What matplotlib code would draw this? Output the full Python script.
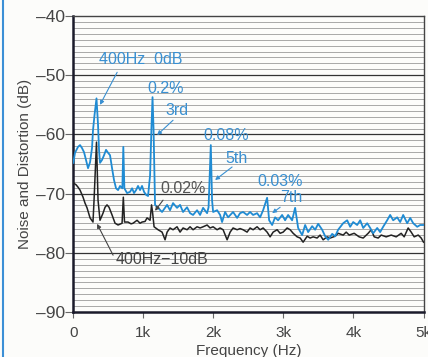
import numpy as np
import matplotlib
matplotlib.use('Agg')
import matplotlib.pyplot as plt
from matplotlib.lines import Line2D

plt.rcParams['font.family'] = ['Liberation Sans', 'DejaVu Sans']

# 400Hz 0dB trace (blue)
blue_f = [0, 24, 67, 96, 124, 153, 181, 210, 239, 267, 281, 303, 331, 353, 367, 381,
          410, 439, 467, 496, 524, 553, 581, 610, 639, 667, 700, 714, 729, 767, 810,
          839, 867, 896, 924, 953, 981, 1010, 1039, 1067, 1096, 1117, 1131, 1146, 1167,
          1210, 1267, 1339, 1381, 1424, 1481, 1524, 1567, 1624, 1667, 1710, 1767, 1810,
          1853, 1910, 1931, 1963, 1981, 1996, 2053, 2096, 2124, 2167, 2210, 2281, 2339,
          2381, 2424, 2481, 2524, 2567, 2624, 2667, 2710, 2767, 2796, 2839, 2881, 2924,
          2981, 3024, 3067, 3124, 3167, 3210, 3267, 3310, 3353, 3410, 3453, 3496, 3553,
          3596, 3639, 3696, 3739, 3781, 3853, 3910, 3953, 3996, 4053, 4096, 4139, 4196,
          4239, 4281, 4339, 4381, 4424, 4481, 4524, 4567, 4624, 4667, 4710, 4767, 4810,
          4853, 4910, 4953, 5000]
blue_db = [-64.8, -63.1, -62.1, -61.8, -62.3, -63.0, -64.3, -65.7, -64.7, -62.3, -59.3,
           -56.7, -53.9, -58.4, -62.6, -64.8, -64.3, -63.5, -62.6, -63.1, -63.5, -65.7,
           -67.7, -69.1, -69.4, -68.7, -69.1, -62.1, -69.1, -69.9, -69.7, -69.1, -69.9,
           -69.4, -68.7, -69.4, -68.7, -69.7, -70.2, -70.4, -66.9, -58.4, -53.7, -59.3,
           -71.9, -72.4, -73.1, -71.9, -72.8, -71.6, -72.4, -71.9, -73.1, -72.3, -73.3,
           -73.6, -72.8, -73.6, -72.4, -73.3, -72.3, -61.8, -71.1, -73.1, -72.8, -73.6,
           -74.8, -73.1, -74.0, -73.1, -74.1, -73.3, -73.1, -73.6, -73.1, -73.6, -73.3,
           -74.0, -72.8, -70.7, -74.5, -75.3, -74.0, -74.5, -73.6, -74.5, -73.6, -74.5,
           -72.4, -75.8, -77.0, -75.3, -76.5, -75.5, -76.1, -75.1, -76.1, -77.2, -77.8,
           -76.8, -77.2, -76.1, -75.0, -74.5, -75.6, -74.8, -75.3, -74.5, -75.8, -75.0,
           -75.8, -76.7, -75.8, -76.5, -75.6, -74.5, -73.6, -74.5, -74.0, -74.8, -73.6,
           -75.0, -74.1, -75.0, -75.6, -75.3, -75.3]

# 400Hz -10dB trace (black)
black_f = [0, 39, 67, 96, 139, 167, 196, 239, 281, 296, 331, 353, 381, 424, 453, 481,
           510, 553, 596, 639, 696, 714, 731, 781, 824, 853, 910, 953, 981, 1024, 1053,
           1096, 1117, 1131, 1153, 1210, 1267, 1310, 1339, 1381, 1424, 1481, 1524, 1567,
           1624, 1667, 1710, 1767, 1810, 1853, 1910, 1953, 1996, 2053, 2096, 2139, 2196,
           2239, 2281, 2339, 2381, 2424, 2481, 2524, 2567, 2624, 2667, 2710, 2767, 2810,
           2853, 2910, 2953, 2996, 3053, 3096, 3139, 3196, 3239, 3281, 3339, 3381, 3424,
           3481, 3524, 3567, 3624, 3667, 3739, 3781, 3853, 3896, 3939, 4010, 4081, 4139,
           4210, 4253, 4296, 4353, 4396, 4467, 4539, 4610, 4681, 4724, 4781, 4824, 4867,
           4924, 4967, 5000]
black_db = [-68.2, -68.5, -68.9, -69.4, -70.6, -71.6, -72.4, -74.1, -74.8, -71.1, -61.3,
            -71.1, -74.5, -73.3, -72.3, -71.9, -72.3, -73.6, -75.0, -75.3, -75.0, -70.6,
            -74.8, -74.8, -75.1, -75.0, -74.5, -75.0, -74.8, -74.7, -74.1, -74.5, -71.9,
            -73.1, -75.6, -76.1, -76.5, -77.8, -76.5, -75.8, -76.1, -75.6, -76.5, -75.8,
            -76.1, -75.6, -76.1, -75.6, -75.8, -75.6, -75.3, -75.8, -75.6, -76.1, -75.8,
            -76.1, -77.8, -76.5, -75.8, -76.1, -75.9, -76.1, -76.5, -75.8, -76.1, -75.6,
            -76.1, -75.8, -76.5, -77.3, -76.5, -76.1, -76.7, -76.5, -75.8, -76.1, -76.7,
            -77.3, -77.5, -78.2, -77.2, -77.5, -77.3, -77.5, -77.0, -77.8, -77.3, -77.5,
            -77.2, -76.7, -77.0, -76.5, -77.0, -76.7, -77.3, -77.5, -76.7, -76.1, -77.3,
            -77.5, -77.0, -77.3, -77.0, -77.3, -76.7, -77.3, -75.8, -76.5, -77.3, -77.0,
            -77.5, -78.2]

x_ticks = [0, 1000, 2000, 3000, 4000, 5000]
x_labels = ['0', '1k', '2k', '3k', '4k', '5k']
y_ticks = [-40, -50, -60, -70, -80, -90]
y_labels = ['\u201340', '\u201350', '\u201360', '\u201370', '\u201380', '\u201390']

blue = '#1f8bd3'
txt_blue = '#3990d2'
ink = '#222222'

fig = plt.figure(figsize=(4.28, 3.57), dpi=100, facecolor='#fcfcfa')
ax = fig.add_axes([0.1713, 0.126, 0.8182, 0.829])
ax.set_facecolor('#fcfcfa')

# horizontal ruling: 1 dB light, 10 dB dark
for v in range(-89, -40):
    if v % 10 == 0:
        ax.axhline(v, color='#333333', lw=0.9, zorder=1)
    else:
        ax.axhline(v, color='#9a9a9a', lw=0.6, zorder=1)

ax.plot(black_f, black_db, color=ink, lw=1.1, zorder=3)
ax.plot(blue_f, blue_db, color=blue, lw=1.3, zorder=4)

ax.set_xlim(0, 5000)
ax.set_ylim(-90, -40)
ax.set_xticks(x_ticks)
ax.set_xticklabels(x_labels, fontsize=11, color='#444444')
ax.set_yticks(y_ticks)
ax.set_yticklabels(y_labels, fontsize=12.5, color='#444444')
ax.tick_params(axis='x', length=4, width=0.8, color='#666666', pad=6)
ax.tick_params(axis='y', length=6, width=0.8, color='#666666', pad=0)
ax.set_xlabel('Frequency (Hz)', fontsize=11, color='#444444', labelpad=3)
ax.set_ylabel('Noise and Distortion (dB)', fontsize=11, color='#444444', labelpad=3)

for s in ['left', 'bottom']:
    ax.spines[s].set_linewidth(1.8)
    ax.spines[s].set_color('#1a1a2a')
for s in ['top', 'right']:
    ax.spines[s].set_linewidth(1.0)
    ax.spines[s].set_color('#444444')

arw = dict(arrowstyle='-|>', lw=0.8, mutation_scale=6, shrinkA=0, shrinkB=0)

ax.text(367, -47.3, '400Hz  0dB', color=txt_blue, fontsize=11.5, va='center', zorder=5)
ax.annotate('', xy=(381, -55.0), xytext=(626, -49.5), arrowprops=dict(arw, color=txt_blue), zorder=5)
ax.text(1053, -52.3, '0.2%', color=txt_blue, fontsize=11.5, va='center', zorder=5)
ax.text(1310, -55.9, '3rd', color=txt_blue, fontsize=11.5, va='center', zorder=5)
ax.annotate('', xy=(1196, -60.1), xytext=(1424, -57.6), arrowprops=dict(arw, color=txt_blue), zorder=5)
ax.text(1853, -60.1, '0.08%', color=txt_blue, fontsize=11.5, va='center', zorder=5)
ax.text(2167, -64.0, '5th', color=txt_blue, fontsize=11.5, va='center', zorder=5)
ax.annotate('', xy=(2024, -67.7), xytext=(2267, -65.5), arrowprops=dict(arw, color=txt_blue), zorder=5)
ax.text(2624, -67.9, '0.03%', color=txt_blue, fontsize=11.5, va='center', zorder=5)
ax.text(2953, -70.6, '7th', color=txt_blue, fontsize=11.5, va='center', zorder=5)
ax.annotate('', xy=(2839, -73.3), xytext=(2953, -72.3), arrowprops=dict(arw, color=txt_blue), zorder=5)
ax.text(1239, -69.1, '0.02%', color='#555555', fontsize=11.5, va='center', zorder=5)
ax.annotate('', xy=(1167, -72.9), xytext=(1281, -71.1), arrowprops=dict(arw, color='#444444'), zorder=5)
ax.text(597, -81.2, '400Hz\u221210dB', color='#444444', fontsize=11.5, va='center', zorder=5)
ax.annotate('', xy=(339, -75.1), xytext=(568, -80.4), arrowprops=dict(arw, color='#444444'), zorder=5)

# blue page edge on the left
fig.add_artist(Line2D([2.5 / 428, 2.5 / 428], [0, 1], color='#3b8fd6', lw=1.5))

fig.savefig('out.png', dpi=100, facecolor=fig.get_facecolor())
